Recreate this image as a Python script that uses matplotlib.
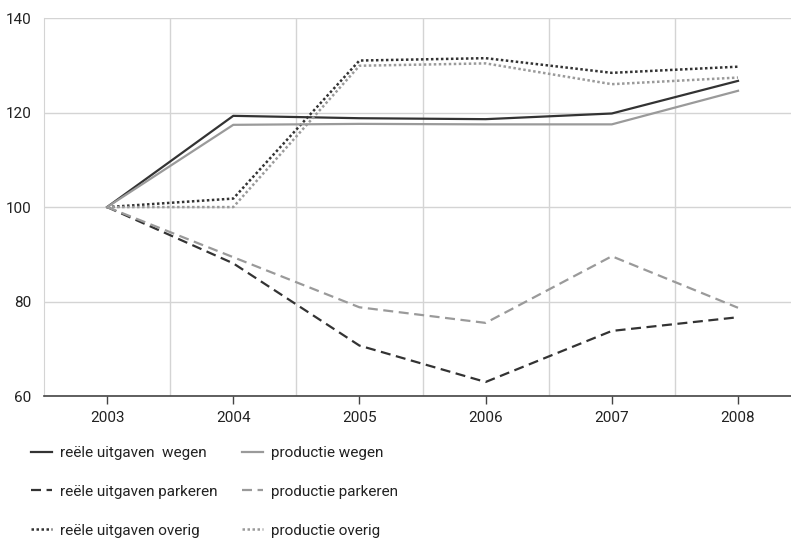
import matplotlib
matplotlib.use("Agg")
import matplotlib.pyplot as plt

plt.rcParams['font.family'] = ['Roboto', 'Open Sans', 'DejaVu Sans']

# data (index, 2003 = 100)
years = ['2003', '2004', '2005', '2006', '2007', '2008']
uitgaven_wegen = [100, 119.3, 118.8, 118.6, 119.8, 126.7]
productie_wegen = [100, 117.4, 117.6, 117.5, 117.5, 124.6]
uitgaven_parkeren = [100, 88.1, 70.7, 63.0, 73.8, 76.7]
productie_parkeren = [100, 89.4, 78.8, 75.5, 89.6, 78.7]
uitgaven_overig = [100, 101.8, 131.0, 131.5, 128.4, 129.7]
productie_overig = [100, 100.0, 129.9, 130.4, 126.0, 127.4]
y_ticks = [60, 80, 100, 120, 140]

dark = '#333333'
grey = '#9a9a9a'
dash = (0, (4.5, 2.5))
dot = (0, (1, 1))

fig = plt.figure(figsize=(7.91, 5.39), dpi=100)
ax = fig.add_axes([0.0556, 0.265, 0.9444, 0.7016])

x = list(range(len(years)))
h1, = ax.plot(x, uitgaven_wegen, color=dark, lw=1.6, label='reële uitgaven  wegen')
h2, = ax.plot(x, uitgaven_parkeren, color=dark, lw=1.6, ls=dash, label='reële uitgaven parkeren')
h3, = ax.plot(x, uitgaven_overig, color=dark, lw=1.8, ls=dot, label='reële uitgaven overig')
h4, = ax.plot(x, productie_wegen, color=grey, lw=1.6, label='productie wegen')
h5, = ax.plot(x, productie_parkeren, color=grey, lw=1.6, ls=dash, label='productie parkeren')
h6, = ax.plot(x, productie_overig, color=grey, lw=1.8, ls=dot, label='productie overig')

ax.set_xlim(-0.5, 5.42)
ax.set_ylim(60, 140)
ax.set_xticks(x)
ax.set_xticklabels(years)
ax.set_yticks(y_ticks)
ax.set_xticks([i + 0.5 for i in range(5)], minor=True)

ax.grid(True, which='minor', axis='x', color='#d4d4d4', lw=1)
ax.grid(True, which='major', axis='y', color='#d4d4d4', lw=1)
ax.set_axisbelow(True)

for s in ['top', 'right']:
    ax.spines[s].set_visible(False)
ax.spines['left'].set_color('#d4d4d4')
ax.spines['bottom'].set_color('#444444')
ax.spines['bottom'].set_linewidth(1.2)

ax.tick_params(axis='y', length=0, pad=9, labelsize=11, colors='#222222')
ax.tick_params(axis='x', which='major', length=6, width=1, color='#444444',
               labelsize=11, labelcolor='#222222', pad=5)
ax.tick_params(axis='x', which='minor', length=0)

fig.legend(handles=[h1, h2, h3, h4, h5, h6], ncol=2, frameon=False,
           loc='upper left', bbox_to_anchor=(0.022, 0.198), fontsize=11,
           handlelength=1.35, handletextpad=0.55, columnspacing=1.6,
           labelspacing=1.62, labelcolor='#222222')

fig.savefig('out.png', dpi=100)
